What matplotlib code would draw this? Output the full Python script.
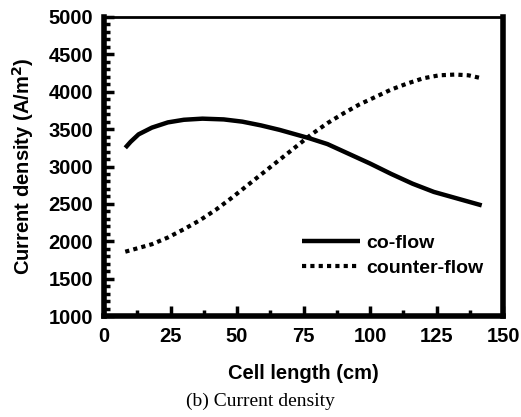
import matplotlib
matplotlib.use('Agg')
import matplotlib.pyplot as plt
from matplotlib.ticker import MultipleLocator

# values
co_x = [8, 10, 13, 18, 24, 30, 37, 45, 52, 59, 66, 72, 77, 84, 92, 100, 108, 116, 124, 134, 142]
co_y = [3250, 3330, 3430, 3520, 3590, 3625, 3640, 3630, 3600, 3550, 3490, 3430, 3380, 3300, 3170, 3040, 2900, 2770, 2660, 2560, 2480]
cf_x = [8, 12, 18, 24, 30, 36, 42, 48, 54, 60, 66, 72, 78, 84, 90, 96, 102, 108, 114, 120, 126, 132, 137, 142]
cf_y = [1860, 1900, 1960, 2050, 2160, 2280, 2420, 2580, 2750, 2920, 3090, 3260, 3430, 3580, 3710, 3830, 3930, 4030, 4110, 4180, 4220, 4230, 4220, 4180]

plt.rcParams['font.family'] = ['Liberation Sans', 'DejaVu Sans']

fig = plt.figure(figsize=(5.21, 4.17), dpi=100)
ax = fig.add_axes([104/521, 1 - 316/417, 399/521, 299/417])

ax.plot(co_x, co_y, color='black', lw=3.2, solid_capstyle='butt', label='co-flow')
ax.plot(cf_x, cf_y, color='black', lw=3, linestyle=(0, (1, 1)), label='counter-flow')

ax.set_xlim(0, 150)
ax.set_ylim(1000, 5000)
ax.xaxis.set_major_locator(MultipleLocator(25))
ax.xaxis.set_minor_locator(MultipleLocator(12.5))
ax.yaxis.set_major_locator(MultipleLocator(500))
ax.yaxis.set_minor_locator(MultipleLocator(100))
ax.tick_params(which='both', direction='in', top=False, right=False, width=2.5)
ax.tick_params(which='major', length=7, labelsize=14.5, pad=8)
ax.tick_params(which='minor', length=4)
for lab in ax.get_xticklabels() + ax.get_yticklabels():
    lab.set_fontweight('bold')

ax.spines['left'].set_linewidth(4)
ax.spines['bottom'].set_linewidth(4)
ax.spines['right'].set_linewidth(4)
ax.spines['top'].set_linewidth(2)

ax.set_xlabel('Cell length (cm)', fontsize=14.5, fontweight='bold', labelpad=13)
ax.set_ylabel('Current density (A/m$^\\mathbf{2}$)', fontsize=14.5, fontweight='bold', labelpad=9)

ax.legend(loc='lower right', bbox_to_anchor=(0.985, 0.085), frameon=False,
          prop={'weight': 'bold', 'size': 14}, handlelength=3.0, handletextpad=0.3,
          labelspacing=0.4, borderpad=0.2)

fig.text(0.5, 1 - 401/417, '(b) Current density', ha='center', va='center',
         family='Liberation Serif', fontsize=14)

plt.savefig('out.png', dpi=100)
